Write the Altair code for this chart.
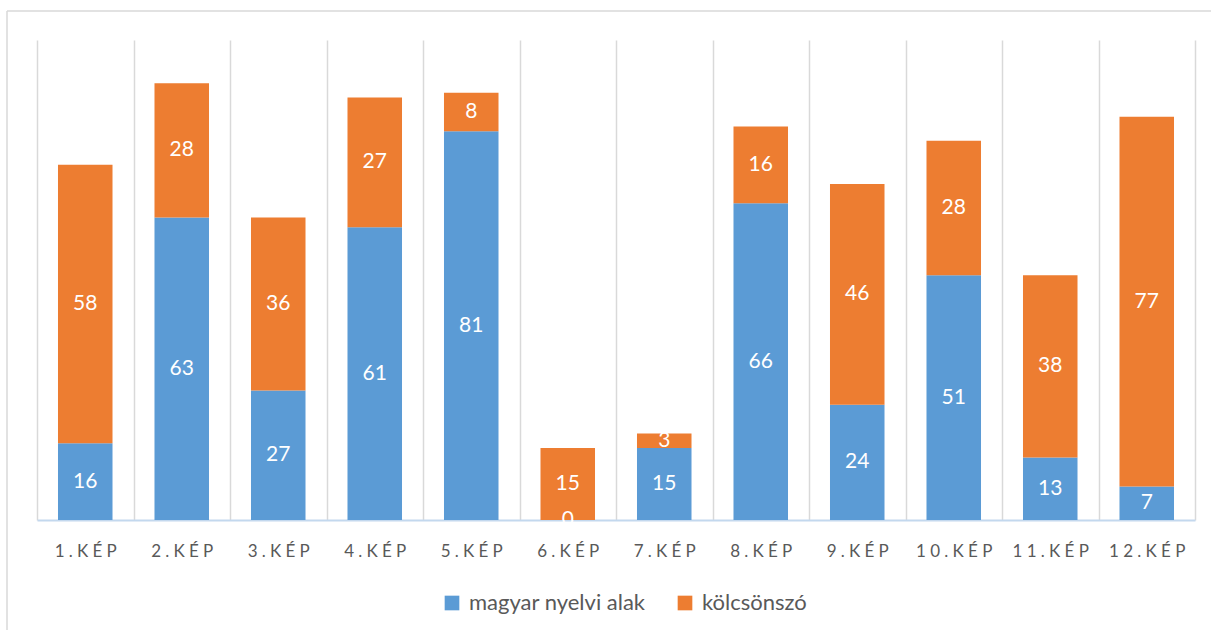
import altair as alt
import pandas as pd

# Picture labels and counts per series
categories = ["1.KÉP", "2.KÉP", "3.KÉP", "4.KÉP", "5.KÉP", "6.KÉP",
              "7.KÉP", "8.KÉP", "9.KÉP", "10.KÉP", "11.KÉP", "12.KÉP"]
magyar = [16, 63, 27, 61, 81, 0, 15, 66, 24, 51, 13, 7]
kolcson = [58, 28, 36, 27, 8, 15, 3, 16, 46, 28, 38, 77]

series_names = ["magyar nyelvi alak", "kölcsönszó"]
series_colors = ["#5B9BD5", "#ED7D31"]

rows = []
for cat, a, b in zip(categories, magyar, kolcson):
    rows.append({"cat": cat, "series": series_names[0], "value": a, "order": 0})
    rows.append({"cat": cat, "series": series_names[1], "value": b, "order": 1})
df = pd.DataFrame(rows)

FONT = "Lato"
W, H = 1158, 480

x_enc = alt.X(
    "cat:N",
    sort=categories,
    scale=alt.Scale(paddingInner=0, paddingOuter=0),
    axis=alt.Axis(
        title=None,
        labelAngle=0,
        tickSize=0,
        ticks=False,
        tickBand="extent",
        grid=True,
        gridColor="#d9d9d9",
        gridWidth=1.5,
        domainColor="#c3d8ee",
        domainWidth=2,
        labelColor="#595959",
        labelFont=FONT,
        labelFontSize=17,
        labelPadding=31,
        labelBaseline="middle",
        # spaced-out capitals
        labelExpr="join(split(datum.label, ''), '\u2005')",
    ),
)

base = alt.Chart(df).transform_stack(
    stack="value",
    groupby=["cat"],
    as_=["y0", "y1"],
    sort=[alt.SortField("order", "ascending")],
).transform_calculate(mid="(datum.y0 + datum.y1) / 2")

bars = base.mark_bar(width=alt.RelativeBandSize(0.565)).encode(
    x=x_enc,
    y=alt.Y("y0:Q", scale=alt.Scale(domain=[0, 100]), axis=None),
    y2="y1:Q",
    color=alt.Color(
        "series:N",
        scale=alt.Scale(domain=series_names, range=series_colors),
        sort=series_names,
        legend=alt.Legend(
            title=None,
            orient="none",
            direction="horizontal",
            legendX=404,
            legendY=552,
            symbolType="square",
            symbolSize=215,
            symbolStrokeWidth=0,
            labelFont=FONT,
            labelFontSize=22,
            labelColor="#595959",
            labelOffset=6,
            labelLimit=400,
            columnPadding=28,
        ),
    ),
)

labels = base.mark_text(
    color="white", font=FONT, fontSize=21, baseline="middle", align="center"
).encode(
    x=alt.X("cat:N", sort=categories),
    y=alt.Y("mid:Q", scale=alt.Scale(domain=[0, 100]), axis=None),
    text="value:Q",
)

# Outer frame lines (left and top edges)
frame_src = pd.DataFrame({"k": [0]})
frame_left = alt.Chart(frame_src).mark_rule(color="#d9d9d9", strokeWidth=1.5).encode(
    x=alt.value(-30), y=alt.value(-29), y2=alt.value(H + 120)
)
frame_top = alt.Chart(frame_src).mark_rule(color="#d9d9d9", strokeWidth=1.5).encode(
    x=alt.value(-30), x2=alt.value(W + 30), y=alt.value(-29)
)

chart = alt.layer(frame_left, frame_top, bars, labels).properties(
    width=W,
    height=H,
    autosize=alt.AutoSizeParams(type="none"),
    padding={"left": 37, "top": 40, "right": 16, "bottom": 110},
    background="white",
).configure_view(stroke=None)

chart.save("out.html", embed_options={"renderer": "svg", "actions": False})
